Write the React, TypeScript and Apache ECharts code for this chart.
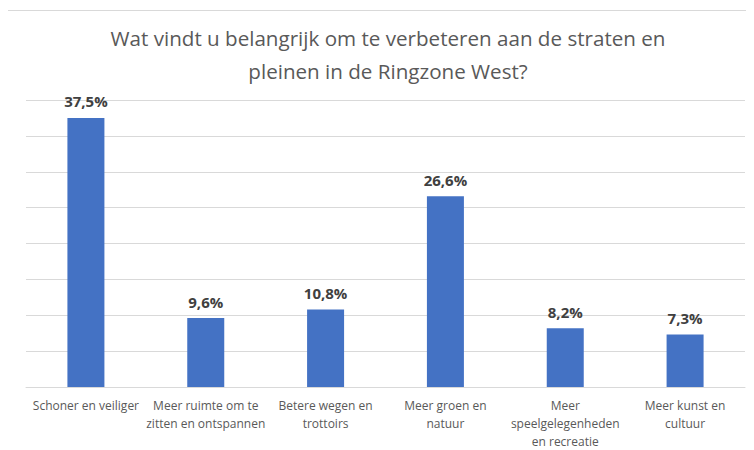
import React, { useEffect, useRef } from "react";
import * as echarts from "echarts";

const categories = [
  "Schoner en veiliger",
  "Meer ruimte om te\nzitten en ontspannen",
  "Betere wegen en\ntrottoirs",
  "Meer groen en\nnatuur",
  "Meer\nspeelgelegenheden\nen recreatie",
  "Meer kunst en\ncultuur",
];
const values = [37.5, 9.6, 10.8, 26.6, 8.2, 7.3];
const titleLines = [
  "Wat vindt u belangrijk om te verbeteren aan de straten en",
  "pleinen in de Ringzone West?",
];

export default function App() {
  const ref = useRef<HTMLDivElement>(null);
  useEffect(() => {
    const chart = echarts.init(ref.current!, null, { renderer: "svg" });
    const titleStyle = {
      fontFamily: "Open Sans",
      fontSize: 20.6,
      fill: "#595959",
      textAlign: "center",
      textVerticalAlign: "middle",
    };
    chart.setOption({
      animation: false,
      backgroundColor: "#ffffff",
      graphic: [
        {
          type: "rect",
          shape: { x: 7.5, y: 10.5, width: 760, height: 460 },
          style: { fill: "none", stroke: "#d9d9d9", lineWidth: 1 },
          silent: true,
          z: -1,
        },
        {
          type: "text",
          x: 388,
          y: 38,
          style: { ...titleStyle, text: titleLines[0] },
        },
        {
          type: "text",
          x: 388,
          y: 71,
          style: { ...titleStyle, text: titleLines[1] },
        },
      ],
      grid: { left: 26, right: 9, top: 100, bottom: 62, containLabel: false },
      xAxis: {
        type: "category",
        data: categories,
        axisLine: { show: true, lineStyle: { color: "#d9d9d9" } },
        axisTick: { show: false },
        axisLabel: {
          interval: 0,
          color: "#595959",
          fontFamily: "Open Sans",
          fontSize: 12,
          lineHeight: 18,
          margin: 9,
        },
      },
      yAxis: {
        type: "value",
        min: 0,
        max: 40,
        interval: 5,
        axisLabel: { show: false },
        axisLine: { show: false },
        axisTick: { show: false },
        splitLine: { lineStyle: { color: "#d9d9d9", width: 1 } },
      },
      series: [
        {
          type: "bar",
          data: values,
          barWidth: 37,
          itemStyle: { color: "#4472C4" },
          label: {
            show: true,
            position: "top",
            distance: 9,
            color: "#404040",
            fontWeight: "bold",
            fontFamily: "Open Sans",
            fontSize: 15,
            formatter: (p: any) => p.value.toFixed(1).replace(".", ",") + "%",
          },
        },
      ],
    });
    return () => chart.dispose();
  }, []);
  return <div ref={ref} style={{ width: 754, height: 450, marginLeft: -8, marginTop: -8 }} />;
}
